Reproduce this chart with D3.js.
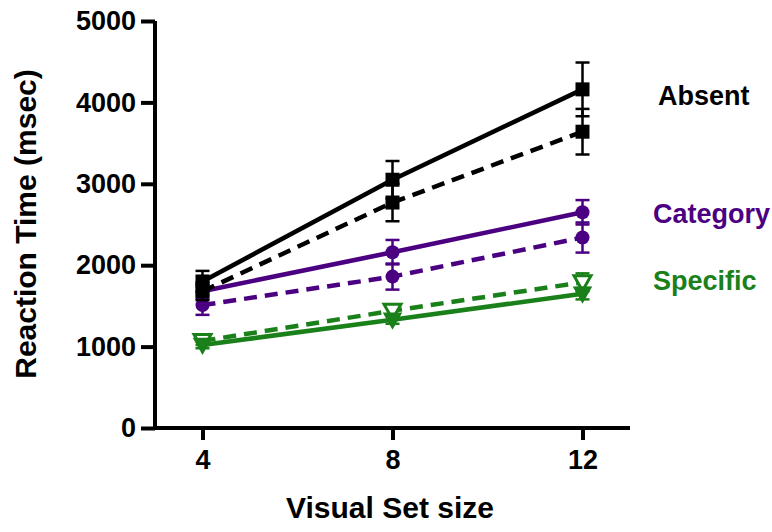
<!DOCTYPE html>
<html><head><meta charset="utf-8">
<script src="https://cdn.jsdelivr.net/npm/d3@7"></script>
<style>body{margin:0;background:#fff}svg{display:block;font-family:"Liberation Sans",Arial,sans-serif;font-weight:bold}</style>
</head><body><svg id="c" width="772" height="532"></svg>
<script>
const setSizes = [4, 8, 12];
const yTicks = [0, 1000, 2000, 3000, 4000, 5000];
const groups = ["Absent", "Category", "Specific"];
const absentSolid = [1800, 3050, 4160];
const absentSolidErr = [130, 230, 330];
const absentDashed = [1680, 2770, 3640];
const absentDashedErr = [110, 230, 280];
const categorySolid = [1680, 2160, 2650];
const categorySolidErr = [90, 150, 150];
const categoryDashed = [1510, 1860, 2340];
const categoryDashedErr = [120, 160, 185];
const specificSolid = [1020, 1330, 1650];
const specificSolidErr = [40, 50, 70];
const specificDashed = [1070, 1440, 1790];
const specificDashedErr = [50, 60, 110];

const colors = {Absent: "#000000", Category: "#4b0082", Specific: "#1a801a"};
const series = [
  {g: "Specific", v: specificDashed, e: specificDashedErr, dash: true, shape: "tri", hollow: true},
  {g: "Specific", v: specificSolid, e: specificSolidErr, dash: false, shape: "tri", hollow: false},
  {g: "Category", v: categoryDashed, e: categoryDashedErr, dash: true, shape: "circle"},
  {g: "Category", v: categorySolid, e: categorySolidErr, dash: false, shape: "circle"},
  {g: "Absent", v: absentDashed, e: absentDashedErr, dash: true, shape: "square"},
  {g: "Absent", v: absentSolid, e: absentSolidErr, dash: false, shape: "square"}
];

const svg = d3.select("#c");
const x = d3.scaleLinear().domain([3, 13]).range([155, 630]);
const y = d3.scaleLinear().domain([0, 5000]).range([428, 21]);

// axes
const yAxis = svg.append("g").attr("transform", "translate(155,0)")
  .call(d3.axisLeft(y).tickValues(yTicks).tickFormat(d3.format("d")).tickSize(14).tickPadding(5).tickSizeOuter(0));
const xAxis = svg.append("g").attr("transform", "translate(0,428)")
  .call(d3.axisBottom(x).tickValues(setSizes).tickFormat(d3.format("d")).tickSize(12).tickPadding(10).tickSizeOuter(0));
[yAxis, xAxis].forEach(a => {
  a.select(".domain").attr("stroke", "#000").attr("stroke-width", 4);
  a.selectAll(".tick line").attr("stroke", "#000").attr("stroke-width", 4);
  a.selectAll(".tick text").attr("fill", "#000").style("font-size", "27px").style("font-weight", "bold")
   .style("font-family", '"Liberation Sans",Arial,sans-serif');
});
yAxis.select(".domain").attr("d", "M0,21V430");
xAxis.select(".domain").attr("d", "M153,0H630");
xAxis.selectAll(".tick text").attr("dy", "0.71em");

svg.append("text").attr("x", 390).attr("y", 518).attr("text-anchor", "middle")
  .style("font-size", "30px").text("Visual Set size");
svg.append("text").attr("transform", "translate(36,224) rotate(-90)").attr("text-anchor", "middle")
  .style("font-size", "30px").text("Reaction Time (msec)");

const line = d3.line().x((d, i) => x(setSizes[i])).y(d => y(d));

series.forEach(s => {
  const c = colors[s.g];
  const g = svg.append("g");
  // error bars
  s.v.forEach((v, i) => {
    const cx = x(setSizes[i]);
    g.append("line").attr("x1", cx).attr("x2", cx).attr("y1", y(v - s.e[i])).attr("y2", y(v + s.e[i]))
      .attr("stroke", c).attr("stroke-width", 2.5);
    [v - s.e[i], v + s.e[i]].forEach(ev => {
      g.append("line").attr("x1", cx - 7).attr("x2", cx + 7).attr("y1", y(ev)).attr("y2", y(ev))
        .attr("stroke", c).attr("stroke-width", 2.5);
    });
  });
  g.append("path").attr("d", line(s.v)).attr("fill", "none").attr("stroke", c)
    .attr("stroke-width", 4.5).attr("stroke-dasharray", s.dash ? "13,8" : null);
  s.v.forEach((v, i) => {
    const cx = x(setSizes[i]), cy = y(v);
    if (s.shape === "square") {
      g.append("rect").attr("x", cx - 7).attr("y", cy - 7).attr("width", 14).attr("height", 14).attr("fill", c);
    } else if (s.shape === "circle") {
      g.append("circle").attr("cx", cx).attr("cy", cy).attr("r", 7).attr("fill", c);
    } else {
      const h = 15, w = 17;
      g.append("path").attr("d", `M${cx - w / 2},${cy - h / 2 + 1}L${cx + w / 2},${cy - h / 2 + 1}L${cx},${cy + h / 2 + 1}Z`)
        .attr("fill", s.hollow ? "#fff" : c).attr("stroke", c).attr("stroke-width", s.hollow ? 3 : 1.5)
        .attr("stroke-linejoin", "miter");
    }
  });
});

// group labels
const labelPos = {Absent: [658, 105], Category: [653, 223], Specific: [653, 290]};
groups.forEach(gname => {
  svg.append("text").attr("x", labelPos[gname][0]).attr("y", labelPos[gname][1])
    .attr("fill", colors[gname]).style("font-size", "27px").text(gname);
});
</script></body></html>
